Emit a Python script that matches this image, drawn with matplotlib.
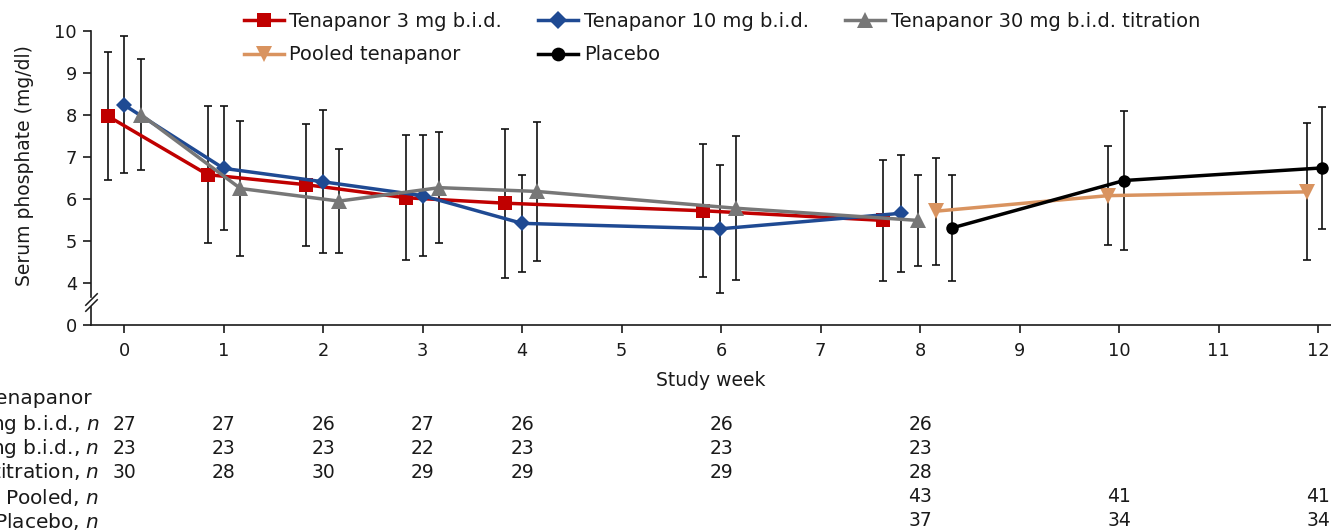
import numpy as np
import matplotlib
matplotlib.use('Agg')
import matplotlib.pyplot as plt

plt.rcParams['font.family'] = ['DejaVu Sans']

# ---- data (mean, SD) ----
weeks_tena = [0, 1, 2, 3, 4, 6, 8]
weeks_late = [8, 10, 12]

mean_3mg = [7.97, 6.58, 6.34, 6.03, 5.90, 5.72, 5.49]
sd_3mg = [1.52, 1.63, 1.45, 1.49, 1.77, 1.58, 1.45]
mean_10mg = [8.24, 6.73, 6.41, 6.08, 5.42, 5.29, 5.66]
sd_10mg = [1.63, 1.48, 1.70, 1.44, 1.15, 1.52, 1.39]
mean_30mg = [8.01, 6.25, 5.95, 6.27, 6.18, 5.78, 5.49]
sd_30mg = [1.32, 1.61, 1.24, 1.32, 1.65, 1.71, 1.08]
mean_pooled = [5.71, 6.08, 6.17]
sd_pooled = [1.27, 1.17, 1.63]
mean_placebo = [5.31, 6.44, 6.74]
sd_placebo = [1.27, 1.66, 1.46]

# horizontal dodge of each group (in weeks); last entry = week 8
dodge_3mg = [-0.16, -0.16, -0.17, -0.17, -0.17, -0.18, -0.37]
dodge_10mg = [0.0, 0.0, 0.0, 0.0, 0.0, -0.01, -0.19]
dodge_30mg = [0.17, 0.17, 0.16, 0.17, 0.15, 0.15, -0.02]
dodge_pooled = [0.16, -0.11, -0.11]
dodge_placebo = [0.32, 0.05, 0.04]

n_rows = ['3 mg b.i.d., $n$', '10 mg b.i.d., $n$', '30 mg b.i.d. titration, $n$',
          'Pooled, $n$', 'Placebo, $n$']
n_weeks = [[0, 1, 2, 3, 4, 6, 8], [0, 1, 2, 3, 4, 6, 8], [0, 1, 2, 3, 4, 6, 8],
           [8, 10, 12], [8, 10, 12]]
n_values = [[27, 27, 26, 27, 26, 26, 26],
            [23, 23, 23, 22, 23, 23, 23],
            [30, 28, 30, 29, 29, 29, 28],
            [43, 41, 41],
            [37, 34, 34]]

# y value at which "0" is drawn (axis break)
Y0 = 3.0
FS = 13.5
TXT = '#1a1a1a'

fig = plt.figure(figsize=(13.31, 5.32), dpi=100)
ax = fig.add_axes([91 / 1331, 207 / 532, 1240 / 1331, 294 / 532])

series = [
    ('Tenapanor 3 mg b.i.d.', weeks_tena, dodge_3mg, mean_3mg, sd_3mg, '#C00000', 's', 9.5),
    ('Tenapanor 10 mg b.i.d.', weeks_tena, dodge_10mg, mean_10mg, sd_10mg, '#1F4A93', 'D', 8.5),
    ('Tenapanor 30 mg b.i.d. titration', weeks_tena, dodge_30mg, mean_30mg, sd_30mg, '#777777', '^', 11),
    ('Pooled tenapanor', weeks_late, dodge_pooled, mean_pooled, sd_pooled, '#D9935F', 'v', 11),
    ('Placebo', weeks_late, dodge_placebo, mean_placebo, sd_placebo, '#000000', 'o', 9),
]

handles = {}
for label, wk, dg, m, sd, col, mk, ms in series:
    x = np.array(wk) + np.array(dg)
    ax.errorbar(x, m, yerr=sd, fmt='none', ecolor='#111111', elinewidth=1.2,
                capsize=3.0, capthick=1.2, zorder=2, clip_on=False)
    ln, = ax.plot(x, m, color=col, lw=2.5, marker=mk, markersize=ms,
                  markeredgewidth=0, zorder=3, clip_on=False, label=label)
    handles[label] = ln

ax.set_xlim(-0.332, 12.13)
ax.set_ylim(Y0, 10)
ax.set_xticks(range(0, 13))
ax.set_yticks([Y0, 4, 5, 6, 7, 8, 9, 10])
ax.set_yticklabels(['0', '4', '5', '6', '7', '8', '9', '10'])
ax.tick_params(axis='both', direction='out', length=6, width=1.2,
               labelsize=12.8, colors=TXT)
ax.tick_params(axis='x', pad=6)
ax.tick_params(axis='y', pad=4)

for s in ['top', 'right']:
    ax.spines[s].set_visible(False)
for s in ['left', 'bottom']:
    ax.spines[s].set_linewidth(1.2)
    ax.spines[s].set_color(TXT)

# broken y axis
ax.spines['left'].set_bounds(3.67, 10)
ax.plot([0, 0], [Y0, 3.43], transform=ax.get_yaxis_transform(), color=TXT,
        lw=1.2, clip_on=False)
for yb in [3.48, 3.63]:
    ax.plot([0], [yb], transform=ax.get_yaxis_transform(), marker=[(-1, -1), (1, 1)],
            markersize=9, color=TXT, mew=1.1, linestyle='none', clip_on=False)

ax.set_xlabel('Study week', fontsize=FS, labelpad=8, color=TXT)
fig.text(25 / 1331, 1 - 166 / 532, 'Serum phosphate (mg/dl)', rotation=90,
         ha='center', va='center', fontsize=FS, color=TXT)

# legend: row 1 = three tenapanor doses, row 2 = pooled + placebo
order = ['Tenapanor 3 mg b.i.d.', 'Pooled tenapanor', 'Tenapanor 10 mg b.i.d.',
         'Placebo', 'Tenapanor 30 mg b.i.d. titration']
leg = fig.legend([handles[k] for k in order], order, ncol=3, frameon=False,
                 loc='upper left', bbox_to_anchor=(236 / 1331, 1 - 4 / 532),
                 fontsize=14, handlelength=2.05, columnspacing=1.85,
                 labelspacing=0.75, handletextpad=0.3, borderaxespad=0,
                 markerscale=1.1)
for t in leg.get_texts():
    t.set_color(TXT)

# numbers at risk table
row_y = [424, 448, 472, 497, 521]
fig.text(92 / 1331, 1 - 398 / 532, 'Tenapanor', ha='right', va='center', fontsize=14.5, color=TXT)
for lab, wk, vals, yp in zip(n_rows, n_weeks, n_values, row_y):
    yf = 1 - yp / 532
    fig.text(99 / 1331, yf, lab, ha='right', va='center', fontsize=14.5, color=TXT)
    for w, v in zip(wk, vals):
        xf = ax.transData.transform((w, Y0))[0] / fig.bbox.width
        fig.text(xf, yf, str(v), ha='center', va='center', fontsize=FS, color=TXT)

fig.savefig('out.png', dpi=100)
